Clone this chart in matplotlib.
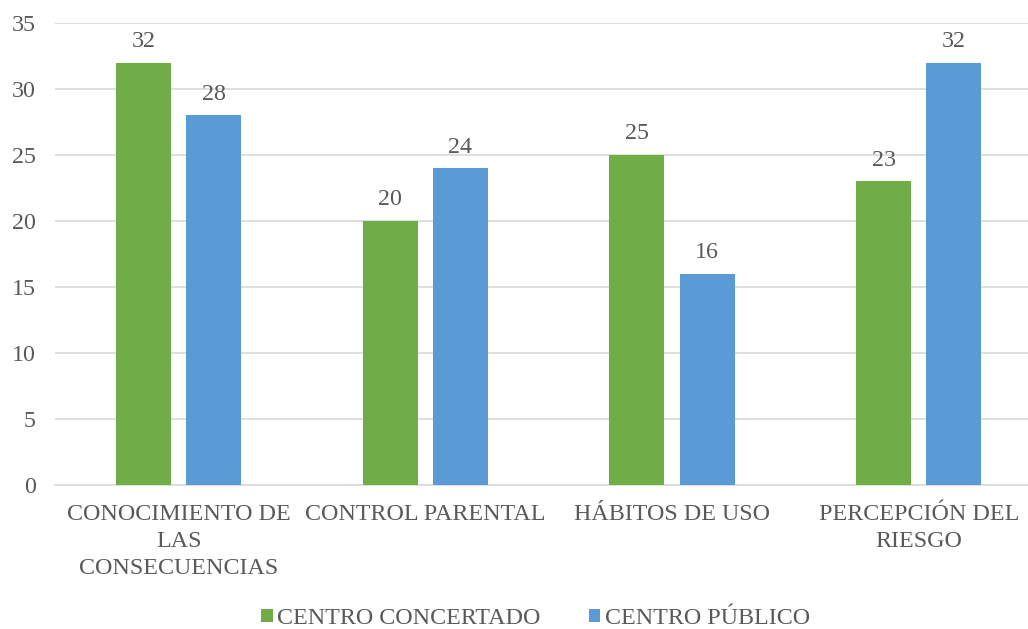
import numpy as np
import matplotlib.pyplot as plt

categorias = ["CONOCIMIENTO DE\nLAS\nCONSECUENCIAS", "CONTROL PARENTAL",
              "HÁBITOS DE USO", "PERCEPCIÓN DEL\nRIESGO"]
concertado = [32, 20, 25, 23]
publico = [28, 24, 16, 32]
series = ["CENTRO CONCERTADO", "CENTRO PÚBLICO"]

verde = "#70AD47"
azul = "#5B9BD5"
gris = "#595959"
fs = 17.3

plt.rcParams['font.family'] = ['Liberation Serif', 'DejaVu Serif']

fig = plt.figure(figsize=(10.28, 6.29), dpi=100)
ax = fig.add_axes([0.0537, 0.229, 0.96, 0.7345])

x = np.arange(len(categorias))
w = 0.223
off = 0.142
b1 = ax.bar(x - off, concertado, w, color=verde, label=series[0], zorder=3)
b2 = ax.bar(x + off, publico, w, color=azul, label=series[1], zorder=3)

for bars in (b1, b2):
    for b in bars:
        ax.text(b.get_x() + b.get_width() / 2, b.get_height() + 0.8,
                f"{int(b.get_height())}", ha="center", va="bottom",
                fontsize=fs, color=gris)

ax.set_xlim(-0.5, 3.5)
ax.set_ylim(0, 35)
ax.set_yticks(range(0, 36, 5))
ax.yaxis.grid(True, color="#D9D9D9", linewidth=1.2, zorder=0)
ax.set_axisbelow(True)
for s in ["top", "right", "left"]:
    ax.spines[s].set_visible(False)
ax.spines["bottom"].set_color("#D9D9D9")
ax.spines["bottom"].set_linewidth(1.2)
ax.tick_params(axis="both", length=0, labelsize=fs, labelcolor=gris)
ax.tick_params(axis="y", pad=14)
ax.tick_params(axis="x", pad=14)
ax.set_xticks(x)
ax.set_xticklabels(categorias, linespacing=1.37)

fig.legend(loc="center", bbox_to_anchor=(0.521, 0.016), ncol=2,
           frameon=False, fontsize=fs, labelcolor=gris,
           handlelength=0.46, handleheight=0.46, handletextpad=0.2,
           columnspacing=2.0)

fig.savefig("out.png", dpi=100)
